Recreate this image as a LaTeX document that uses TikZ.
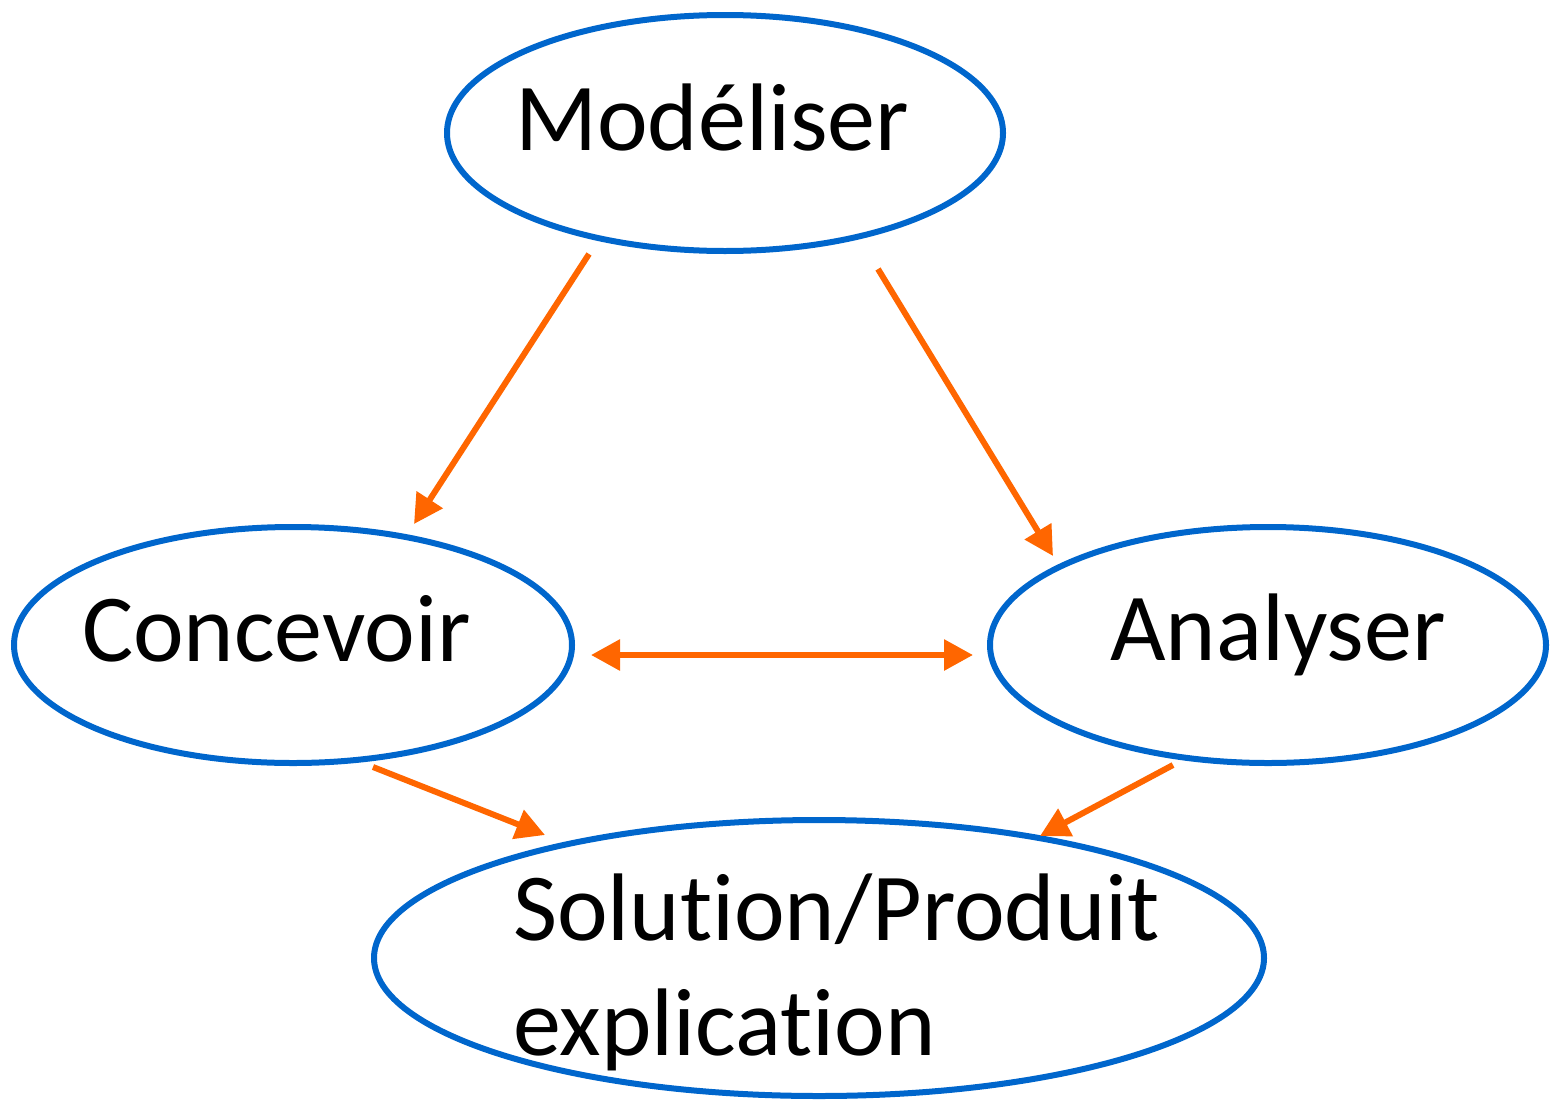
\documentclass[tikz,border=0pt]{standalone}
\usepackage{fontspec}
\setmainfont[Ligatures=CommonOff]{Carlito}
\usetikzlibrary{shapes.geometric,arrows.meta}
\definecolor{ellblue}{HTML}{0066CC}
\definecolor{arrorange}{HTML}{FF6600}
\tikzset{
  oval/.style={draw=ellblue, line width=6pt, ellipse, inner sep=0pt},
  lbl/.style={anchor=base west, inner sep=0pt, font=\fontsize{96}{115}\selectfont},
  conn/.style={draw=arrorange, line width=6pt, -{Triangle[length=29pt,width=30pt]}},
  dconn/.style={draw=arrorange, line width=6pt, {Triangle[length=29pt,width=30pt]}-{Triangle[length=29pt,width=30pt]}}
}
\begin{document}
\begin{tikzpicture}[x=1pt,y=-1pt]
\useasboundingbox (0,0) rectangle (1552,1100);
\node[oval, minimum width=556pt, minimum height=236pt] (mod) at (725,133) {};
\node[oval, minimum width=558pt, minimum height=236pt] (conc) at (293,645) {};
\node[oval, minimum width=556pt, minimum height=236pt] (ana) at (1268,645) {};
\node[oval, minimum width=890pt, minimum height=276pt] (sol) at (819,958) {};
\node[lbl] (tmod) at (515,150) {Modéliser};
\node[lbl] (tconc) at (82,661) {Concevoir};
\node[lbl] (tana) at (1110,660) {Analyser};
\node[lbl] (tsol1) at (513,940) {Solution/Produit};
\node[lbl] (tsol2) at (513,1055) {explication};
\coordinate (a1s) at (589,254);
\coordinate (a1e) at (414,524);
\coordinate (a2s) at (878,269);
\coordinate (a2e) at (1053,556);
\coordinate (a3s) at (591,655);
\coordinate (a3e) at (973,655);
\coordinate (a4s) at (373,767);
\coordinate (a4e) at (545,835);
\coordinate (a5s) at (1173,765);
\coordinate (a5e) at (1040,836);
\draw[conn] (a1s) -- (a1e);
\draw[conn] (a2s) -- (a2e);
\draw[dconn] (a3s) -- (a3e);
\draw[conn] (a4s) -- (a4e);
\draw[conn] (a5s) -- (a5e);
\end{tikzpicture}
\end{document}
